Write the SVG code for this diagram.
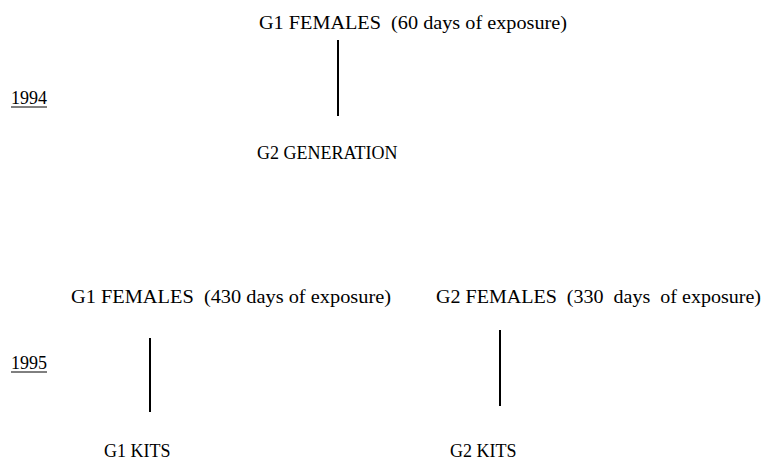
<svg xmlns="http://www.w3.org/2000/svg" width="765" height="462" viewBox="0 0 765 462">
<style>
text{font-family:"Liberation Serif","Times New Roman",serif;font-size:18px;fill:#000}
.c{stroke:#000;stroke-width:2;fill:none}
.u{stroke:#000;stroke-width:1}
</style>
<rect width="765" height="462" fill="#fff"/>
<g id="year1994"><text x="11" y="104">1994</text><line class="u" x1="11" y1="107" x2="47" y2="107"/></g>
<g id="year1995"><text x="11" y="369">1995</text><line class="u" x1="11" y1="372" x2="47" y2="372"/></g>
<g id="g1females60"><text x="259" y="29" xml:space="preserve" textLength="308" lengthAdjust="spacingAndGlyphs">G1 FEMALES  (60 days of exposure)</text></g>
<g id="g2generation"><text x="257" y="159">G2 GENERATION</text></g>
<g id="g1females430"><text x="71" y="303" xml:space="preserve" textLength="320" lengthAdjust="spacingAndGlyphs">G1 FEMALES  (430 days of exposure)</text></g>
<g id="g2females330"><text x="436" y="303" xml:space="preserve" textLength="325" lengthAdjust="spacingAndGlyphs">G2 FEMALES  (330  days  of exposure)</text></g>
<g id="g1kits"><text x="104" y="457">G1 KITS</text></g>
<g id="g2kits"><text x="450" y="457">G2 KITS</text></g>
<g id="connectors">
<line class="c" x1="338" y1="40" x2="338" y2="116"/>
<line class="c" x1="150" y1="338" x2="150" y2="412"/>
<line class="c" x1="500" y1="330" x2="500" y2="406"/>
</g>
</svg>
